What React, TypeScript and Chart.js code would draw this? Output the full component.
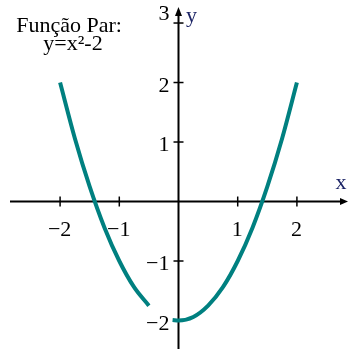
import React, { useEffect, useRef } from "react";
import { Chart, registerables } from "chart.js";

Chart.register(...registerables);

const TITLE_LINES = ["Função Par:", "y=x²-2"];
const LEFT_X = [-2, -1.75, -1.5, -1.25, -1, -0.75, -0.5];
const LEFT_Y = [2, 1.06, 0.25, -0.44, -1, -1.44, -1.75];
const RIGHT_X = [-0.1, 0, 0.25, 0.5, 0.75, 1, 1.25, 1.5, 1.75, 2];
const RIGHT_Y = [-1.99, -2, -1.94, -1.75, -1.44, -1, -0.44, 0.25, 1.06, 2];
const X_TICKS = [-2, -1, 1, 2];
const Y_TICKS = [-2, -1, 1, 2, 3];
const fmt = (v: number) => (v < 0 ? "\u2212" + Math.abs(v) : String(v));

const CURVE = "#008080";
const FONT = "22px 'Liberation Serif', 'Times New Roman', serif";

const axesPlugin = {
  id: "centeredAxes",
  beforeDatasetsDraw(chart: any) {
    const ctx = chart.ctx;
    const xs = chart.scales.x;
    const ys = chart.scales.y;
    const ox = xs.getPixelForValue(0);
    const oy = ys.getPixelForValue(0);
    ctx.save();
    ctx.fillStyle = "#fff";
    ctx.fillRect(0, 0, chart.width, chart.height);
    ctx.strokeStyle = "#000";
    ctx.fillStyle = "#000";
    // x axis
    ctx.lineWidth = 2;
    ctx.beginPath();
    ctx.moveTo(10, oy);
    ctx.lineTo(342, oy);
    ctx.stroke();
    ctx.beginPath();
    ctx.moveTo(348, oy);
    ctx.lineTo(340, oy - 3.5);
    ctx.lineTo(340, oy + 3.5);
    ctx.closePath();
    ctx.fill();
    // y axis
    ctx.beginPath();
    ctx.moveTo(ox, chart.height);
    ctx.lineTo(ox, 14);
    ctx.stroke();
    ctx.beginPath();
    ctx.moveTo(ox, 7);
    ctx.lineTo(ox - 3.5, 16);
    ctx.lineTo(ox + 3.5, 16);
    ctx.closePath();
    ctx.fill();
    // ticks
    ctx.lineWidth = 1.5;
    X_TICKS.forEach((v) => {
      const p = xs.getPixelForValue(v);
      ctx.beginPath();
      ctx.moveTo(p, oy - 5);
      ctx.lineTo(p, oy + 5);
      ctx.stroke();
    });
    Y_TICKS.forEach((v) => {
      const p = ys.getPixelForValue(v);
      ctx.beginPath();
      ctx.moveTo(ox - 5, p);
      ctx.lineTo(ox + 5, p);
      ctx.stroke();
    });
    // tick labels
    ctx.font = FONT;
    ctx.textBaseline = "alphabetic";
    ctx.textAlign = "center";
    X_TICKS.forEach((v) => {
      ctx.fillText(fmt(v), xs.getPixelForValue(v) - 0.5, oy + 34);
    });
    ctx.textAlign = "right";
    const topTick = Y_TICKS[Y_TICKS.length - 1];
    Y_TICKS.forEach((v) => {
      const p = ys.getPixelForValue(v);
      const dy = v === topTick ? -3 : 9;
      ctx.fillText(fmt(v), ox - 9, p + dy);
    });
    // axis names
    ctx.fillStyle = "#1c2466";
    ctx.textAlign = "center";
    ctx.fillText("x", 341, oy - 13);
    ctx.fillText("y", ox + 13, 22);
    // title
    ctx.fillStyle = "#000";
    ctx.fillText(TITLE_LINES[0], 69, 32);
    ctx.fillText(TITLE_LINES[1], 73, 50);
    ctx.restore();
  },
};

export default function App() {
  const ref = useRef<HTMLCanvasElement>(null);
  useEffect(() => {
    if (!ref.current) return;
    const toPts = (xs: number[], ys: number[]) => xs.map((x, i) => ({ x, y: ys[i] }));
    const ds = (xs: number[], ys: number[]) => ({
      data: toPts(xs, ys),
      borderColor: CURVE,
      borderWidth: 4,
      pointRadius: 0,
      cubicInterpolationMode: "monotone" as const,
      fill: false,
      borderCapStyle: "butt" as const,
    });
    const chart = new Chart(ref.current, {
      type: "line",
      data: { datasets: [ds(LEFT_X, LEFT_Y), ds(RIGHT_X, RIGHT_Y)] },
      options: {
        animation: false,
        responsive: false,
        maintainAspectRatio: false,
        layout: { padding: 0 },
        plugins: { legend: { display: false }, tooltip: { enabled: false } },
        scales: {
          x: { type: "linear", min: -3.015, max: 2.863, display: false },
          y: { type: "linear", min: -2.479, max: 3.387, display: false },
        },
      },
      plugins: [axesPlugin],
    });
    return () => chart.destroy();
  }, []);
  return (
    <div style={{ position: "fixed", left: 0, top: 0, width: 348, height: 349, background: "#fff" }}>
      <canvas ref={ref} width={348} height={349} />
    </div>
  );
}
